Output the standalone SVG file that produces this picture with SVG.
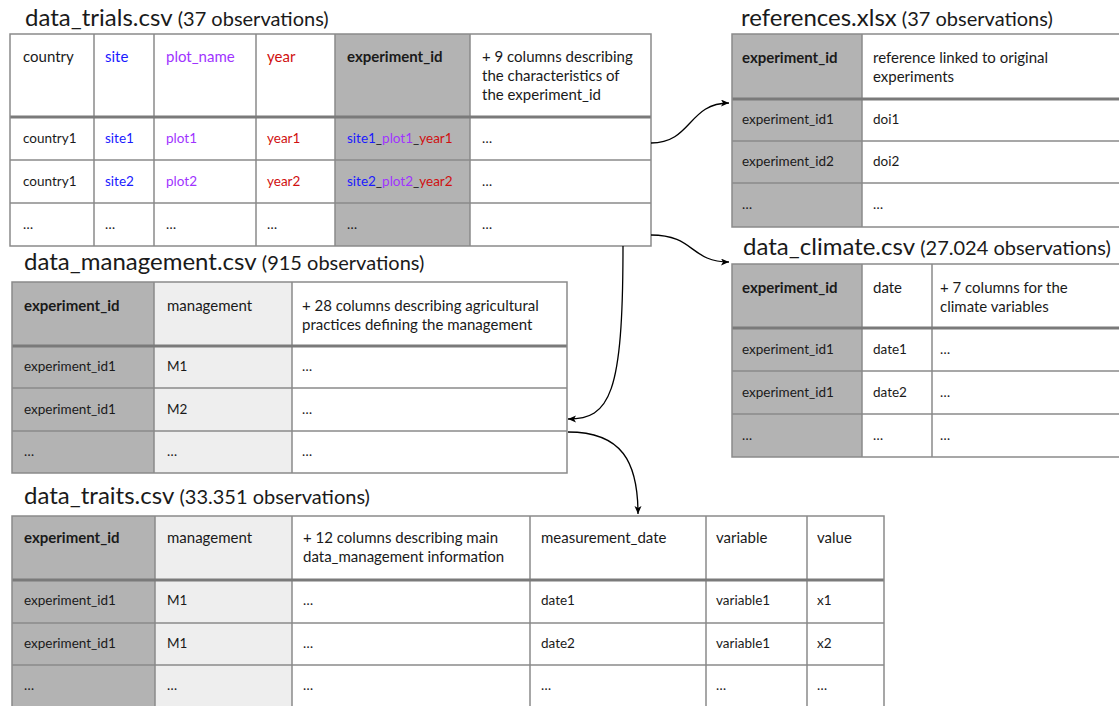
<svg xmlns="http://www.w3.org/2000/svg" width="1119" height="706" viewBox="0 0 1119 706">
<defs>
<marker id="arr" markerWidth="10" markerHeight="8" refX="8" refY="3.5" orient="auto" markerUnits="userSpaceOnUse">
<path d="M0,0 L8,3.5 L0,7 L2,3.5 z" fill="#000"/>
</marker>
</defs>
<style>
text{font-family:Lato,"Liberation Sans",sans-serif;fill:#1a1a1a}
.t{font-size:24px}
.s{font-size:20px}
.h{font-size:15px}
.d{font-size:13.5px}
.bo{font-weight:bold}
.g{fill:#b3b3b3}
.lg{fill:#eeeeee}
.w{fill:#ffffff}
.ln{stroke:#8a8a8a;stroke-width:1.5;fill:none}
.hb{stroke:#7a7a7a;stroke-width:3;fill:none}
.c{fill:none;stroke:#000;stroke-width:1.3;marker-end:url(#arr)}
.bl{fill:#1a1aff}.pu{fill:#a033ff}.re{fill:#d01010}
</style>
<rect width="1119" height="706" fill="#fff"/>

<g id="data_trials">
<text x="25" y="26"><tspan class="t">data_trials.csv</tspan><tspan class="s"> (37 observations)</tspan></text>
<rect x="10" y="34" width="641" height="212" class="w"/>
<rect x="335" y="34" width="135" height="212" class="g"/>
<path class="ln" d="M94,34V246M154,34V246M256,34V246M335,34V246M470,34V246M10,160H651M10,203H651"/>
<path class="hb" d="M10,117H651"/>
<rect x="10" y="34" width="641" height="212" class="ln"/>
<text class="h" x="23" y="62">country</text>
<text class="h bl" x="105" y="62">site</text>
<text class="h pu" x="166" y="62">plot_name</text>
<text class="h re" x="267" y="62">year</text>
<text class="h bo" x="347" y="62">experiment_id</text>
<text class="h" x="482" y="62">+ 9 columns describing</text>
<text class="h" x="482" y="81">the characteristics of</text>
<text class="h" x="482" y="100">the experiment_id</text>
<text class="d" x="23" y="143">country1</text>
<text class="d bl" x="105" y="143">site1</text>
<text class="d pu" x="166" y="143">plot1</text>
<text class="d re" x="267" y="143">year1</text>
<text class="d" x="347" y="143"><tspan class="bl">site1</tspan>_<tspan class="pu">plot1</tspan>_<tspan class="re">year1</tspan></text>
<text class="d" x="482" y="143">…</text>
<text class="d" x="23" y="186">country1</text>
<text class="d bl" x="105" y="186">site2</text>
<text class="d pu" x="166" y="186">plot2</text>
<text class="d re" x="267" y="186">year2</text>
<text class="d" x="347" y="186"><tspan class="bl">site2</tspan>_<tspan class="pu">plot2</tspan>_<tspan class="re">year2</tspan></text>
<text class="d" x="482" y="186">…</text>
<text class="d" x="23" y="229">…</text>
<text class="d" x="105" y="229">…</text>
<text class="d" x="166" y="229">…</text>
<text class="d" x="267" y="229">…</text>
<text class="d" x="347" y="229">…</text>
<text class="d" x="482" y="229">…</text>
</g>

<g id="references">
<text x="741" y="26"><tspan class="t">references.xlsx</tspan><tspan class="s"> (37 observations)</tspan></text>
<rect x="732" y="34" width="400" height="193" class="w"/>
<rect x="732" y="34" width="130" height="193" class="g"/>
<path class="ln" d="M862,34V227M732,141H1132M732,183H1132"/>
<path class="hb" d="M732,99H1132"/>
<rect x="732" y="34" width="400" height="193" class="ln"/>
<text class="h bo" x="742" y="63">experiment_id</text>
<text class="h" x="873" y="63">reference linked to original</text>
<text class="h" x="873" y="82">experiments</text>
<text class="d" x="742" y="124">experiment_id1</text>
<text class="d" x="873" y="124">doi1</text>
<text class="d" x="742" y="166">experiment_id2</text>
<text class="d" x="873" y="166">doi2</text>
<text class="d" x="742" y="209">…</text>
<text class="d" x="873" y="209">…</text>
</g>

<g id="data_climate">
<text x="743" y="255"><tspan class="t">data_climate.csv</tspan><tspan class="s"> (27.024 observations)</tspan></text>
<rect x="732" y="264" width="400" height="193" class="w"/>
<rect x="732" y="264" width="130" height="193" class="g"/>
<path class="ln" d="M862,264V457M932,264V457M732,371H1132M732,414H1132"/>
<path class="hb" d="M732,328H1132"/>
<rect x="732" y="264" width="400" height="193" class="ln"/>
<text class="h bo" x="742" y="293">experiment_id</text>
<text class="h" x="873" y="293">date</text>
<text class="h" x="940" y="293">+ 7 columns for the</text>
<text class="h" x="940" y="312">climate variables</text>
<text class="d" x="742" y="354">experiment_id1</text>
<text class="d" x="873" y="354">date1</text>
<text class="d" x="940" y="354">…</text>
<text class="d" x="742" y="397">experiment_id1</text>
<text class="d" x="873" y="397">date2</text>
<text class="d" x="940" y="397">…</text>
<text class="d" x="742" y="440">…</text>
<text class="d" x="873" y="440">…</text>
<text class="d" x="940" y="440">…</text>
</g>

<g id="data_management">
<text x="24" y="270"><tspan class="t">data_management.csv</tspan><tspan class="s"> (915 observations)</tspan></text>
<rect x="12" y="282" width="555" height="191" class="w"/>
<rect x="12" y="282" width="142" height="191" class="g"/>
<rect x="154" y="282" width="138" height="191" class="lg"/>
<path class="ln" d="M154,282V473M292,282V473M12,388H567M12,431H567"/>
<path class="hb" d="M12,346H567"/>
<rect x="12" y="282" width="555" height="191" class="ln"/>
<text class="h bo" x="24" y="311">experiment_id</text>
<text class="h" x="167" y="311">management</text>
<text class="h" x="302" y="311">+ 28 columns describing agricultural</text>
<text class="h" x="302" y="330">practices defining the management</text>
<text class="d" x="24" y="371">experiment_id1</text>
<text class="d" x="167" y="371">M1</text>
<text class="d" x="302" y="371">…</text>
<text class="d" x="24" y="414">experiment_id1</text>
<text class="d" x="167" y="414">M2</text>
<text class="d" x="302" y="414">…</text>
<text class="d" x="24" y="456">…</text>
<text class="d" x="167" y="456">…</text>
<text class="d" x="302" y="456">…</text>
</g>

<g id="data_traits">
<text x="24" y="504"><tspan class="t">data_traits.csv</tspan><tspan class="s"> (33.351 observations)</tspan></text>
<rect x="12" y="516" width="872" height="194" class="w"/>
<rect x="12" y="516" width="143" height="194" class="g"/>
<rect x="155" y="516" width="137" height="194" class="lg"/>
<path class="ln" d="M155,516V710M292,516V710M530,516V710M706,516V710M807,516V710M12,623H884M12,665H884"/>
<path class="hb" d="M12,580H884"/>
<rect x="12" y="516" width="872" height="194" class="ln"/>
<text class="h bo" x="24" y="543">experiment_id</text>
<text class="h" x="167" y="543">management</text>
<text class="h" x="303" y="543">+ 12 columns describing main</text>
<text class="h" x="303" y="562">data_management information</text>
<text class="h" x="541" y="543">measurement_date</text>
<text class="h" x="716" y="543">variable</text>
<text class="h" x="817" y="543">value</text>
<text class="d" x="24" y="605">experiment_id1</text>
<text class="d" x="167" y="605">M1</text>
<text class="d" x="303" y="605">…</text>
<text class="d" x="541" y="605">date1</text>
<text class="d" x="716" y="605">variable1</text>
<text class="d" x="817" y="605">x1</text>
<text class="d" x="24" y="648">experiment_id1</text>
<text class="d" x="167" y="648">M1</text>
<text class="d" x="303" y="648">…</text>
<text class="d" x="541" y="648">date2</text>
<text class="d" x="716" y="648">variable1</text>
<text class="d" x="817" y="648">x2</text>
<text class="d" x="24" y="690">…</text>
<text class="d" x="167" y="690">…</text>
<text class="d" x="303" y="690">…</text>
<text class="d" x="541" y="690">…</text>
<text class="d" x="716" y="690">…</text>
<text class="d" x="817" y="690">…</text>
</g>

<g id="connectors">
<path class="c" d="M651,143C692,143 688,103 729,103"/>
<path class="c" d="M651,235C695,235 690,262 729,262"/>
<path class="c" d="M623,246C623,395 610,419 568,419"/>
<path class="c" d="M568,432C622,432 638,462 638,514"/>
</g>
</svg>
